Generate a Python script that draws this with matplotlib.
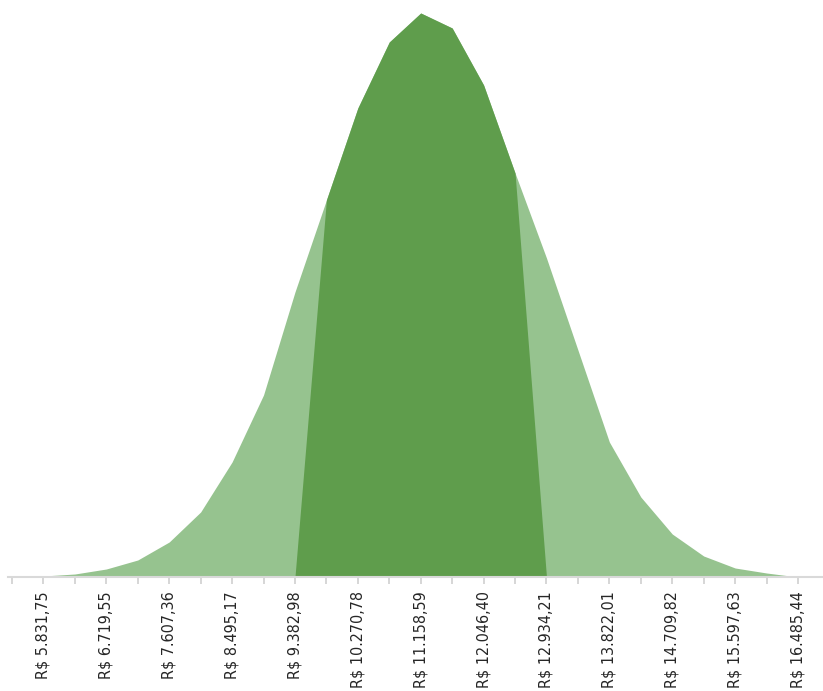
import numpy as np
import matplotlib.pyplot as plt

# faixas de preço (categorias) - rótulo a cada duas
precos = [5387.85, 5831.75, 6275.65, 6719.55, 7163.45, 7607.36, 8051.26, 8495.17,
          8939.07, 9382.98, 9826.88, 10270.78, 10714.69, 11158.59, 11602.50, 12046.40,
          12490.30, 12934.21, 13378.11, 13822.01, 14265.92, 14709.82, 15153.73,
          15597.63, 16041.53, 16485.44]

# frequência da distribuição completa
freq_total = [0, 1, 3, 8, 17, 35, 65, 115, 182, 285, 377, 469, 535, 564, 549,
              492, 404, 319, 227, 135, 80, 43, 21, 9, 4, 0]

# faixa central destacada
freq_central = [0, 0, 0, 0, 0, 0, 0, 0, 0, 0, 377, 469, 535, 564, 549,
                492, 404, 0, 0, 0, 0, 0, 0, 0, 0, 0]


def fmt_brl(v):
    s = f"{v:,.2f}"
    s = s.replace(",", "X").replace(".", ",").replace("X", ".")
    return "R$ " + s


plt.rcParams['font.family'] = ['DejaVu Sans']
plt.rcParams['font.stretch'] = 'condensed'

fig = plt.figure(figsize=(8.23, 6.91), dpi=100)
ax = fig.add_axes([8 / 823, 1 - 577 / 691, 815 / 823, 577 / 691])

x = np.arange(len(precos))
ax.fill_between(x, freq_total, color='#96C38F', linewidth=0)
ax.fill_between(x, freq_central, color='#5F9D4C', linewidth=0)

ax.set_xlim(-4 / 31.44, len(precos) - 1 + 25 / 31.44)
ax.set_ylim(0, max(freq_total) * 577 / 564)

labels = [fmt_brl(p) if i % 2 == 1 else "" for i, p in enumerate(precos)]
ax.set_xticks(x)
ax.set_xticklabels(labels, rotation=90, fontsize=11.5, color='#262626',
                   fontstretch='condensed')
ax.tick_params(axis='x', length=5, width=1.2, color='#D0D0D0', pad=5)
ax.set_yticks([])

for s in ['top', 'right', 'left']:
    ax.spines[s].set_visible(False)
ax.spines['bottom'].set_color('#D9D9D9')
ax.spines['bottom'].set_linewidth(1.5)

fig.savefig('out.png', dpi=100)
